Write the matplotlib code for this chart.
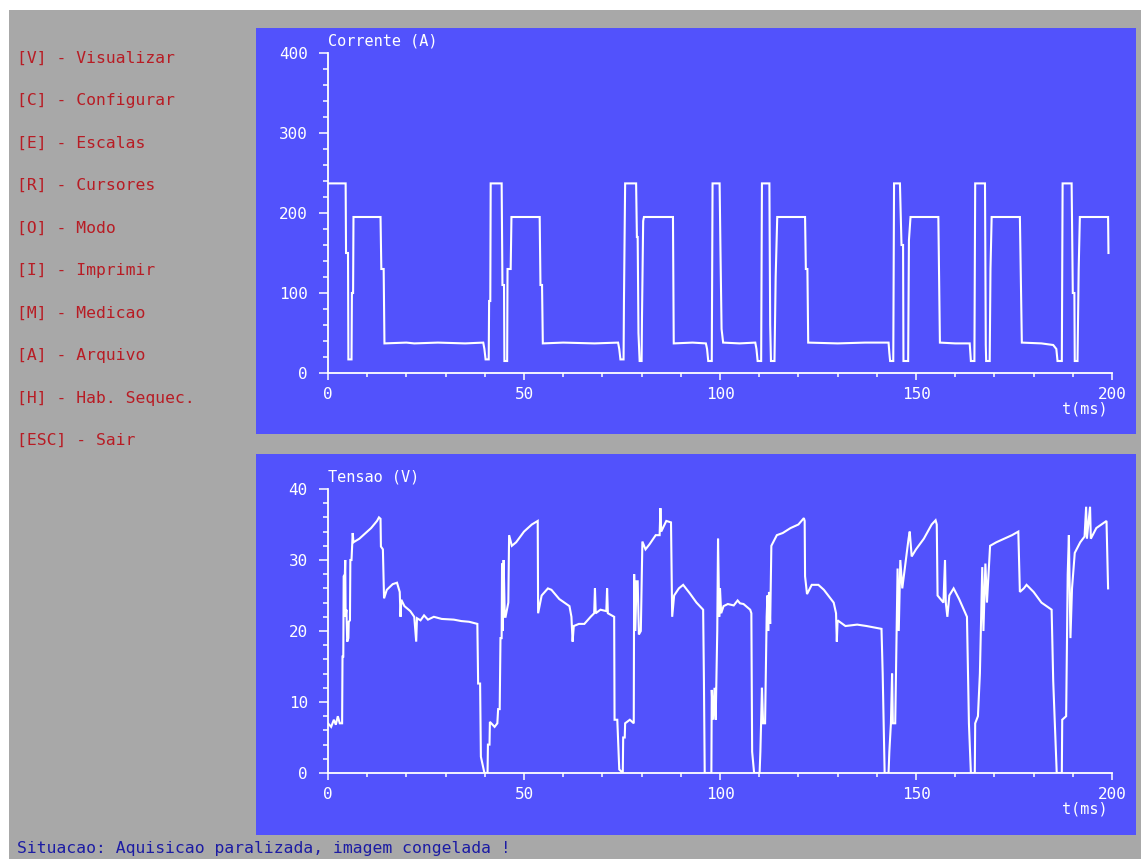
import matplotlib
matplotlib.use("Agg")
import matplotlib.pyplot as plt
import matplotlib.ticker as mticker
from matplotlib.patches import Rectangle

t_corrente = [
    0, 4.5, 4.6, 5.1, 5.2, 6.0, 6.1, 6.4, 6.5, 13.4,
    13.6, 14.2, 14.4, 20, 22, 28, 35, 39.6, 39.9, 40.2,
    41.0, 41.1, 41.4, 41.5, 44.3, 44.5, 44.9, 45.0, 45.7, 45.8,
    46.6, 46.8, 54.0, 54.2, 54.6, 54.8, 60, 68, 74.0, 74.3,
    74.6, 75.4, 75.5, 75.8, 78.6, 78.8, 79.0, 79.2, 79.5, 80.0,
    80.1, 80.4, 80.6, 88.0, 88.2, 93, 96.4, 96.7, 97.0, 97.9,
    98.1, 99.9, 100.1, 100.4, 100.8, 105, 109.0, 109.3, 109.6, 110.5,
    110.7, 112.6, 112.8, 113.0, 113.9, 114.2, 114.6, 121.7, 121.9, 122.3,
    122.5, 130, 137, 143.0, 143.2, 143.4, 144.2, 144.4, 145.9, 146.3,
    146.7, 146.8, 148.0, 148.2, 148.6, 155.7, 156.1, 160, 163.7, 164.0,
    164.9, 165.1, 167.6, 167.8, 167.9, 168.8, 169.0, 169.3, 176.5, 177.0,
    182, 185.0, 185.8, 186.1, 187.2, 187.4, 189.7, 190.0, 190.4, 190.5,
    191.2, 191.5, 191.8, 199.0, 199.1,
]
corrente = [
    237, 237, 150, 150, 17, 17, 100, 100, 195, 195,
    130, 130, 37, 38, 37, 38, 37, 38, 30, 17,
    17, 90, 90, 237, 237, 110, 110, 15, 15, 130,
    130, 195, 195, 110, 110, 37, 38, 37, 38, 30,
    17, 17, 90, 237, 237, 170, 170, 50, 15, 15,
    70, 190, 195, 195, 37, 38, 37, 30, 15, 15,
    237, 237, 160, 55, 38, 37, 38, 30, 15, 15,
    237, 237, 60, 15, 15, 120, 195, 195, 130, 130,
    38, 37, 38, 38, 25, 15, 15, 237, 237, 160,
    160, 15, 15, 166, 195, 195, 38, 37, 37, 15,
    15, 237, 237, 35, 15, 15, 130, 195, 195, 38,
    37, 35, 30, 15, 15, 237, 237, 100, 100, 15,
    15, 130, 195, 195, 150,
]

t_tensao = [
    0, 0.8, 1.5, 2.0, 2.5, 3.0, 3.6, 3.7, 3.9, 4.0,
    4.3, 4.4, 4.5, 4.7, 4.9, 5.2, 5.3, 5.6, 5.7, 6.0,
    6.3, 6.5, 8, 10, 11, 12.5, 13.0, 13.4, 13.5, 14.0,
    14.3, 15.0, 16.5, 17.6, 18.3, 18.5, 18.7, 19.5, 21.0, 22.0,
    22.5, 22.7, 23.6, 24.5, 25.5, 27.0, 29, 32.1, 34, 36,
    38.1, 38.3, 38.8, 39.0, 39.5, 39.9, 40.7, 40.8, 41.2, 41.3,
    42.5, 43.2, 43.4, 43.8, 44.0, 44.3, 44.4, 44.6, 44.8, 45.1,
    45.3, 46.0, 46.2, 46.9, 48, 50, 52, 53.5, 53.6, 54.5,
    56.1, 57, 59, 61.6, 62.1, 62.4, 62.7, 64, 65.4, 67.0,
    67.9, 68.1, 68.3, 69.5, 71.0, 71.2, 71.4, 73.0, 73.1, 73.8,
    74.3, 75.2, 75.3, 75.7, 75.8, 77, 78.0, 78.1, 78.4, 78.7,
    79.0, 79.3, 79.8, 80.2, 81, 82, 83.6, 84.6, 84.8, 85.0,
    86.3, 87.5, 87.8, 88.3, 89.5, 90.6, 92.3, 94, 95.7, 95.9,
    96.1, 97.8, 97.9, 98.2, 98.6, 98.9, 99.3, 99.5, 99.8, 100.0,
    100.3, 100.9, 102, 103.5, 104.5, 105.1, 106, 107.7, 108.0, 108.2,
    108.7, 110.1, 110.3, 110.7, 111.0, 111.5, 111.9, 112.1, 112.3, 112.5,
    112.8, 113.1, 114.5, 116, 118, 120, 121.4, 121.6, 121.7, 122.2,
    123.4, 125.1, 126.5, 129.0, 129.6, 129.8, 130.0, 132.0, 135, 137.4,
    141.2, 141.5, 142.0, 143.0, 143.2, 143.6, 143.9, 144.1, 144.7, 145.3,
    145.6, 146.0, 146.5, 148.1, 148.4, 148.9, 150, 152, 154, 155.0,
    155.3, 155.5, 157.0, 157.4, 157.6, 158.0, 158.5, 159.6, 161, 163.0,
    163.5, 164.0, 165.0, 165.1, 165.8, 166.3, 166.9, 167.2, 167.7, 168.1,
    168.9, 170.5, 172.5, 174.5, 176.1, 176.5, 177.5, 178.2, 180, 182,
    184.6, 185.0, 185.9, 187.2, 187.3, 188.3, 188.7, 189.0, 189.4, 189.8,
    190.5, 191.9, 193.0, 193.4, 193.6, 194.4, 194.6, 196, 198.6, 199.0,
]
tensao = [
    7.0, 6.5, 7.5, 6.8, 8.0, 7.0, 7.0, 16.4, 16.4, 27.7,
    28, 30, 22, 23, 18.5, 19, 21.3, 21.5, 30, 30,
    33.8, 32.5, 33, 34, 34.5, 35.5, 36, 35.8, 31.9, 31.5,
    24.6, 25.8, 26.6, 26.8, 25.5, 22, 24.4, 23.5, 22.8, 22.0,
    18.5, 21.8, 21.5, 22.2, 21.6, 22.0, 21.7, 21.6, 21.4, 21.3,
    21.0, 12.6, 12.6, 2.3, 1, 0, 0, 4, 4, 7.2,
    6.5, 7, 9, 9, 19, 19, 29.5, 20, 30, 22,
    22, 24, 33.5, 32, 32.5, 34, 35, 35.5, 22.5, 25,
    26, 25.8, 24.5, 23.5, 22, 18.5, 20.7, 21, 21, 22,
    22.5, 26, 22.5, 23, 22.8, 26, 22.5, 22, 7.5, 7.5,
    0.5, 0, 5, 5, 7, 7.5, 7, 28, 20, 27,
    27, 19.5, 20, 32.6, 31.5, 32.2, 33.5, 33.5, 37.3, 34,
    35.5, 35.3, 22, 25, 26, 26.5, 25.3, 24, 23, 13,
    0, 0, 11.7, 7.5, 12, 7.5, 20, 33, 22, 26,
    22.5, 23.5, 23.8, 23.6, 24.3, 23.9, 23.8, 23, 22.5, 3,
    0, 0, 3, 12, 7, 7, 22, 25, 20, 25.5,
    21, 32, 33.5, 33.8, 34.5, 35, 35.9, 35.5, 27.7, 25.2,
    26.5, 26.5, 25.8, 24, 22.5, 18.5, 21.5, 20.7, 20.9, 20.7,
    20.3, 14, 0, 0, 3, 7, 14, 7, 7, 28.8,
    20, 30, 26, 33, 34, 30.5, 31.5, 33, 35, 35.6,
    35, 25, 24, 30, 24, 22, 25, 26, 24.5, 22,
    7, 0, 0, 7, 8, 14, 29, 20, 29.5, 24,
    32, 32.5, 33, 33.5, 34, 25.5, 26, 26.5, 25.5, 24,
    23, 13, 0, 0, 7.5, 8, 28, 33.5, 19, 26,
    31, 32.5, 33.3, 37.5, 33, 37.5, 33, 34.5, 35.5, 26,
]

menu = [
    "[V] - Visualizar", "[C] - Configurar", "[E] - Escalas",
    "[R] - Cursores", "[O] - Modo", "[I] - Imprimir",
    "[M] - Medicao", "[A] - Arquivo", "[H] - Hab. Sequec.",
    "[ESC] - Sair",
]
status = "Situacao: Aquisicao paralizada, imagem congelada !"

# ── cores / fonte ───────────────────────────────────────────────
CINZA = "#a8a8a8"
AZUL = "#5252fc"
VERMELHO = "#b81c24"
AZUL_ESC = "#1c1ca4"
FONTE = "DejaVu Sans Mono"

W, H = 1141, 859


def caixa(x0, y0, x1, y1):
    # pixels (origem no topo) -> fracao da figura
    return [x0 / W, 1 - y1 / H, (x1 - x0) / W, (y1 - y0) / H]


fig = plt.figure(figsize=(W / 100, H / 100), dpi=100, facecolor="white")

# fundo cinza + paineis azuis (atras dos eixos)
for x0, y0, x1, y1, cor in [
    (9, 10, W, H, CINZA),
    (256, 28, 1136, 434, AZUL),
    (256, 454, 1136, 835, AZUL),
]:
    l, b, w, h = caixa(x0, y0, x1, y1)
    fig.patches.append(Rectangle((l, b), w, h, transform=fig.transFigure,
                                 facecolor=cor, edgecolor="none", zorder=-5))

# menu lateral
for i, item in enumerate(menu):
    fig.text(17 / W, 1 - (58 + i * 42.5) / H, item, color=VERMELHO,
             fontsize=11.8, family=FONTE, va="center", ha="left")

fig.text(17 / W, 1 - 848 / H, status, color=AZUL_ESC, fontsize=11.8,
         family=FONTE, va="center", ha="left")


def osciloscopio(pos, t, y, ymax, titulo):
    ax = fig.add_axes(pos)
    ax.set_zorder(2)
    ax.set_facecolor("none")
    ax.plot(t, y, color="white", linewidth=1.5, solid_joinstyle="miter")
    ax.set_xlim(0, 200)
    ax.set_ylim(0, ymax)

    for s in ("top", "right"):
        ax.spines[s].set_visible(False)
    for s in ("left", "bottom"):
        ax.spines[s].set_color("white")
        ax.spines[s].set_linewidth(1.3)

    ax.xaxis.set_major_locator(mticker.MultipleLocator(50))
    ax.xaxis.set_minor_locator(mticker.MultipleLocator(10))
    ax.yaxis.set_major_locator(mticker.MultipleLocator(ymax / 4))
    ax.yaxis.set_minor_locator(mticker.MultipleLocator(ymax / 20))
    ax.yaxis.set_major_formatter(mticker.FuncFormatter(lambda v, _: f"{int(v)}"))

    ax.tick_params(which="both", colors="white", labelcolor="white",
                   labelsize=11.5, width=1.1, direction="out")
    ax.tick_params(axis="y", which="major", length=6.5, pad=8)
    ax.tick_params(axis="y", which="minor", length=3.5)
    ax.tick_params(axis="x", which="major", length=5, pad=5)
    ax.tick_params(axis="x", which="minor", length=3)
    for lbl in ax.get_xticklabels() + ax.get_yticklabels():
        lbl.set_family(FONTE)

    ax.text(0, 1.015, titulo, transform=ax.transAxes, color="white",
            fontsize=11, family=FONTE, ha="left", va="bottom")
    ax.annotate("t(ms)", xy=(0.995, 0), xycoords="axes fraction",
                xytext=(0, -29), textcoords="offset pixels", color="white",
                fontsize=11, family=FONTE, ha="right", va="top")
    return ax


osciloscopio(caixa(328, 53, 1112, 373), t_corrente, corrente, 400, "Corrente (A)")
osciloscopio(caixa(328, 489, 1112, 773), t_tensao, tensao, 40, "Tensao (V)")

fig.savefig("out.png", dpi=100, facecolor="white")
